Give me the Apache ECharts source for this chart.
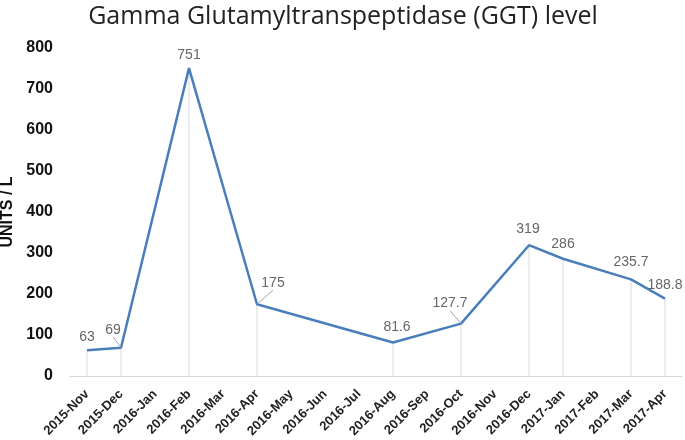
<!DOCTYPE html>
<html>
<head>
<meta charset="utf-8">
<script src="https://cdn.jsdelivr.net/npm/echarts@6/dist/echarts.min.js"></script>
<style>
html,body{margin:0;padding:0;background:#fff;}
#chart{width:685px;height:440px;}
</style>
</head>
<body>
<div id="chart"></div>
<script>
var categories = ['2015-Nov','2015-Dec','2016-Jan','2016-Feb','2016-Mar','2016-Apr','2016-May','2016-Jun','2016-Jul','2016-Aug','2016-Sep','2016-Oct','2016-Nov','2016-Dec','2017-Jan','2017-Feb','2017-Mar','2017-Apr'];
var ggtValues = [63, 69, null, 751, null, 175, null, null, null, 81.6, null, 127.7, null, 319, 286, null, 235.7, 188.8];
var yTicks = [0, 100, 200, 300, 400, 500, 600, 700, 800];

// label nudges (style only), keyed by category index
var labelShift = {1: [-8, -5], 5: [16, -8], 9: [4, -2], 11: [-11, -7], 13: [-1, -3], 14: [0, -2], 16: [0, -4], 17: [0, 0]};
var leaderIdx = {1: true, 5: true, 11: true};

var lineData = ggtValues.map(function (v, i) {
  return {value: v, labelLine: {show: !!leaderIdx[i]}};
});

var chart = echarts.init(document.getElementById('chart'), null, {renderer: 'canvas'});
chart.setOption({
  animation: false,
  backgroundColor: '#fff',
  title: {
    text: 'Gamma Glutamyltranspeptidase (GGT) level',
    left: 338, top: -1, textAlign: 'center',
    textStyle: {fontFamily: 'Open Sans', fontSize: 25, fontWeight: 'normal', color: '#222'}
  },
  grid: {left: 70, right: 3, top: 48, bottom: 64, containLabel: false, outerBoundsMode: 'none'},
  xAxis: {
    type: 'category',
    data: categories,
    boundaryGap: true,
    axisLine: {show: true, lineStyle: {color: '#d9d9d9', width: 1}},
    axisTick: {show: false},
    axisLabel: {rotate: 45, interval: 0, margin: 16, fontFamily: 'Liberation Sans', fontWeight: 'bold', fontSize: 13, color: '#222'},
    splitLine: {show: false}
  },
  yAxis: {
    type: 'value',
    min: yTicks[0], max: yTicks[yTicks.length - 1], interval: 100,
    name: 'UNITS / L', nameLocation: 'middle', nameGap: 50, nameRotate: 90,
    nameTextStyle: {fontFamily: 'Liberation Sans', fontWeight: 'bold', fontSize: 16, color: '#111'},
    axisLine: {show: false},
    axisTick: {show: false},
    splitLine: {show: false},
    axisLabel: {margin: 17, fontFamily: 'Liberation Sans', fontWeight: 'bold', fontSize: 16, color: '#111'}
  },
  series: [
    {
      type: 'bar',
      data: ggtValues,
      barWidth: 1,
      itemStyle: {color: '#d9d9d9'},
      silent: true,
      z: 1
    },
    {
      type: 'line',
      data: lineData,
      connectNulls: true,
      showSymbol: true,
      symbol: 'circle',
      symbolSize: 0.01,
      itemStyle: {color: 'rgba(0,0,0,0)'},
      lineStyle: {color: '#4a7ebb', width: 2.5},
      z: 3,
      label: {
        show: true, position: 'top', distance: 6,
        fontFamily: 'Liberation Sans', fontSize: 14, color: '#666'
      },
      labelLine: {lineStyle: {color: '#a6a6a6', width: 1}},
      labelLayout: function (p) {
        var s = labelShift[p.dataIndex];
        if (!s) return {};
        return {dx: s[0], dy: s[1]};
      }
    }
  ]
});
</script>
</body>
</html>
